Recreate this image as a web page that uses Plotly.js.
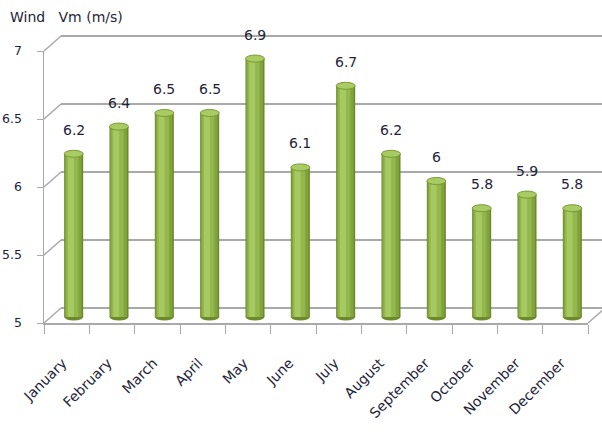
<!DOCTYPE html>
<html>
<head>
<meta charset="utf-8">
<script src="https://cdn.plot.ly/plotly-3.0.1.min.js"></script>
<style>html,body{margin:0;padding:0;background:#fff;}#chart{width:602px;height:434px;}</style>
</head>
<body>
<div id="chart"></div>
<script>
// ---- data ----
const months = ['January','February','March','April','May','June','July','August','September','October','November','December'];
const windSpeed = [6.2, 6.4, 6.5, 6.5, 6.9, 6.1, 6.7, 6.2, 6.0, 5.8, 5.9, 5.8];
const yTicks = [5, 5.5, 6, 6.5, 7];
const yTickLabels = ['5', '5.5', '6', '6.5', '7'];
const chartTitle = 'Wind\u00a0\u00a0\u00a0Vm (m/s)';

// ---- geometry (pixels) ----
const W = 602, H = 434;
const M = {l: 44, r: 14, t: 51, b: 111};
const plotW = W - M.l - M.r, plotH = H - M.t - M.b;
const yMin = 5, yMax = 7;
const unitPx = plotH / (yMax - yMin);
const catPx = plotW / months.length;
const backDx = 17, backDy = 15;   // depth of back wall
const midDx = 7, midDy = 6;       // depth of bars
const textColor = '#1f1f3a';
const frameColor = '#a9a9a9';
const FONT = 'DejaVu Sans, sans-serif';

// ---- front axes carrier (invisible) ----
const traces = [{
  type: 'scatter', mode: 'markers', x: months, y: windSpeed,
  marker: {opacity: 0}, xaxis: 'x', yaxis: 'y', hoverinfo: 'skip', showlegend: false
}];

// ---- cylinder layers ----
const layers = [
  {w: 0.42, c: 0.00, color: '#6b8a2b'},
  {w: 0.37, c: -0.01, color: '#81a33b'},
  {w: 0.27, c: -0.03, color: '#93b64d'},
  {w: 0.13, c: -0.06, color: '#a7c962'}
];
layers.forEach(L => traces.push({
  type: 'bar', x: months, y: windSpeed.map(v => v - yMin), base: yMin,
  width: L.w, offset: L.c - L.w / 2,
  marker: {color: L.color, line: {width: 0}},
  xaxis: 'x2', yaxis: 'y2', hoverinfo: 'skip', showlegend: false
}));

// ---- frame shapes ----
const shapes = [];
const py = v => (v - yMin) / (yMax - yMin);
const bx = backDx / plotW, by = backDy / plotH;
yTicks.forEach(v => {
  shapes.push({type: 'line', layer: 'below', xref: 'paper', yref: 'paper',
    x0: 0, y0: py(v), x1: bx, y1: py(v) + by, line: {color: frameColor, width: 1.5}});
  shapes.push({type: 'line', layer: 'below', xref: 'paper', yref: 'paper',
    x0: bx, y0: py(v) + by, x1: 1 + bx, y1: py(v) + by, line: {color: frameColor, width: 2}});
});
shapes.push({type: 'line', layer: 'below', xref: 'paper', yref: 'paper',
  x0: 1, y0: 0, x1: 1 + bx, y1: by, line: {color: frameColor, width: 1.5}});

// bottom and top ellipses of the cylinders
windSpeed.forEach((v, i) => {
  shapes.push({type: 'circle', layer: 'below', xref: 'x2', yref: 'y2',
    xsizemode: 'pixel', xanchor: i, x0: -9.5, x1: 9.5,
    ysizemode: 'pixel', yanchor: yMin, y0: -3.5, y1: 3.5,
    fillcolor: '#6b8a2b', line: {width: 0}});
  shapes.push({type: 'circle', layer: 'above', xref: 'x2', yref: 'y2',
    xsizemode: 'pixel', xanchor: i, x0: -9.5, x1: 9.5,
    ysizemode: 'pixel', yanchor: v, y0: -3.5, y1: 3.5,
    fillcolor: '#a9cb64', line: {color: '#7a9a36', width: 1}});
});

// value labels
const annotations = windSpeed.map((v, i) => ({
  xref: 'x2', yref: 'y2', x: months[i], y: v, yshift: 24,
  text: String(v), showarrow: false,
  font: {family: FONT, size: 14, color: textColor}
}));

const layout = {
  width: W, height: H,
  margin: M,
  paper_bgcolor: '#fff', plot_bgcolor: 'rgba(0,0,0,0)',
  barmode: 'overlay',
  showlegend: false,
  font: {family: FONT, color: textColor},
  title: {text: chartTitle, xref: 'container', yref: 'container',
    x: 10 / W, xanchor: 'left', y: 1 - 17 / H, yanchor: 'middle',
    font: {family: FONT, size: 14, color: textColor}},
  xaxis: {type: 'category', range: [-0.5, months.length - 0.5],
    tickson: 'boundaries', ticks: 'outside', ticklen: 9, tickcolor: frameColor, tickwidth: 1,
    showline: true, linecolor: frameColor, linewidth: 1.5,
    showgrid: false, zeroline: false, tickangle: -45,
    ticklabelstandoff: 25, ticklabelshift: -4,
    tickfont: {family: FONT, size: 14, color: textColor}, fixedrange: true},
  yaxis: {range: [yMin, yMax], tickvals: yTicks, ticktext: yTickLabels,
    ticks: 'outside', ticklen: 6, tickcolor: frameColor, tickwidth: 1,
    showline: true, linecolor: frameColor, linewidth: 1.5,
    showgrid: false, zeroline: false, ticklabelstandoff: 12,
    tickfont: {family: FONT, size: 12.5, color: textColor}, fixedrange: true},
  xaxis2: {type: 'category', overlaying: 'x', anchor: 'y2', visible: false,
    range: [-0.5 - midDx / catPx, months.length - 0.5 - midDx / catPx], fixedrange: true},
  yaxis2: {overlaying: 'y', anchor: 'x2', visible: false,
    range: [yMin - midDy / unitPx, yMax - midDy / unitPx], fixedrange: true},
  shapes: shapes,
  annotations: annotations
};

Plotly.newPlot('chart', traces, layout, {displayModeBar: false, staticPlot: true});
</script>
</body>
</html>
